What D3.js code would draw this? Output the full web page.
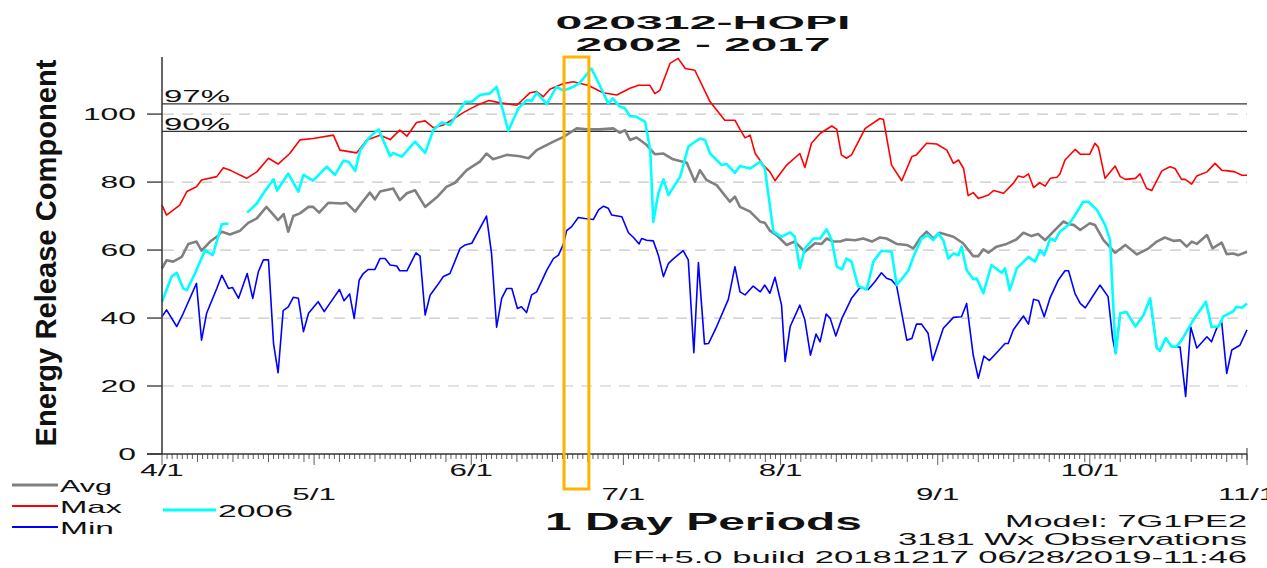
<!DOCTYPE html>
<html><head><meta charset="utf-8">
<script src="https://cdn.jsdelivr.net/npm/d3@7"></script>
<style>html,body{margin:0;padding:0;background:#fff;}svg{display:block;}</style>
</head><body>
<svg id="chart" width="1267" height="568"></svg>
<script>
// ---- data (day offset from 4/1, value) ----
const avgPts = [[0,54.6],[0.9,57],[2.2,56.6],[3.9,58],[5.2,61.8],[6.8,62.5],[7.8,59.8],[9.5,62.5],[10.8,63.9],[11.8,65.4],[13.4,64.6],[15.4,65.7],[17,68],[18.7,69.3],[20.6,72.7],[22.9,68.8],[24,70.6],[24.9,65.4],[25.9,70],[27.2,70.8],[28.9,72.7],[29.8,72.7],[31,71],[32.8,73.9],[35.4,73.7],[36.4,73.9],[38.1,71.3],[39.4,73.9],[41,76.9],[42,74.9],[43,77.2],[45.6,78.1],[46.9,74.7],[48.3,76.7],[49.9,77.6],[51.9,72.7],[54.2,75.5],[56.1,78.6],[57.8,79.8],[60.1,83.5],[62.7,86],[64,88.4],[65.3,86.7],[68,88],[70.6,87.6],[72.3,87],[73.9,89.4],[77.2,91.9],[79.2,93.3],[81.8,95.8],[83.8,95.5],[86.4,95.5],[89,95.8],[90.3,94.5],[91.3,95.3],[92.3,92.4],[93.6,93.1],[95.6,90.9],[97.2,88.2],[98.9,88.4],[100.8,86.7],[103.5,85.7],[105.1,80.1],[106.1,83.5],[107.4,80.6],[109.4,79.1],[112,74.2],[113,75.7],[114,72.7],[116,71.3],[118,68.3],[118.9,68],[119.9,65.7],[121.2,64.4],[123.2,61.5],[124.8,62.5],[126.8,59.5],[128.8,62],[130.1,61.8],[131.1,63.4],[132.4,62.5],[133.7,62.5],[135,63.1],[136.7,62.9],[138.3,63.4],[140,62.5],[141.6,63.7],[142.9,63.4],[144.9,61.8],[146.9,61.5],[148.2,60.5],[149.5,63.4],[150.8,65.4],[152.1,63.4],[153.4,65.1],[156.1,63.9],[158,62],[160,58.2],[161,58.2],[162,60.2],[163,59.2],[164.6,61],[166.6,61.8],[168.5,63.1],[169.9,65.1],[171.5,64.1],[172.8,64.7],[174.2,62.9],[175.8,65.4],[177.8,68.4],[178.8,67.6],[179.8,67.4],[181.1,65.9],[183,67.9],[184,67.4],[185.7,62.9],[188,59.2],[190,61.5],[192.3,58.7],[194.6,60.5],[196.2,62.5],[197.8,63.7],[199.5,62.7],[200.8,62.9],[202.1,61],[203.1,62.5],[204.1,61.8],[206.1,64.4],[207.2,60.5],[209,62.2],[210,58.8],[211.3,59],[212.3,58.5],[214,59.5]];

const maxPts = [[0,73.2],[0.9,70.3],[3.5,73.2],[4.9,77.2],[6.8,78.6],[7.8,80.6],[10.8,81.6],[12.1,84.2],[13.7,83.3],[16.7,81.1],[18.7,83],[21,87],[22.9,85.3],[25.2,88.4],[27.2,92.4],[29.8,92.8],[33.8,93.8],[35.1,89.4],[38.4,88.6],[40.4,92.4],[43,93.8],[45,92.5],[46.9,95.3],[48.3,93.5],[50.2,97.5],[51.9,98],[53.5,96],[55.5,96.8],[57.1,98.2],[59.5,100.5],[62,102.5],[64.5,104],[66.7,103.3],[70,102.6],[72.6,106.3],[73.9,106.6],[75.2,105.1],[76.5,107.3],[79.2,109],[81.1,109.5],[82.5,109],[84,108.5],[87,106.3],[89.7,105.6],[92.3,107.6],[94,108.5],[96.2,108.5],[97.2,106],[98.2,107],[100.2,114.9],[101.8,116.4],[103.2,113.4],[105.1,112.9],[108.1,103.6],[109.4,101.2],[111,98.2],[113,98.2],[114,95.5],[115,93],[116,93.8],[117,88.4],[118.6,85],[119.9,83],[120.9,80.4],[123.2,85],[125.8,88.4],[126.8,84.3],[128.1,91.4],[129.8,94.3],[132.1,96.5],[133.1,95.5],[134,88],[135,87],[136,88],[138.7,95.8],[141.6,98.7],[142.3,98.4],[143.9,85],[145.9,80.4],[147.9,87.5],[148.8,88],[150.8,91.4],[152.8,91.2],[154.8,89.4],[156.1,85.5],[157.1,86.5],[158.1,84],[159,76],[160,76.9],[161,75.2],[163,76.2],[164,77.5],[166,76.7],[167.9,79.6],[168.9,81.8],[169.9,81.4],[170.9,82.4],[171.9,78.4],[173.1,79.8],[174.2,78.8],[175.2,81.1],[176.5,81.4],[177.1,82.4],[178.1,86.5],[180.1,89.6],[181.1,88.2],[183,88.2],[184,91.4],[184.7,90.2],[186,81.1],[188,84.7],[189,81.6],[190,80.8],[192,81.1],[192.9,82.4],[194.2,78.1],[195.2,77.5],[197.2,83.3],[198.8,84.5],[199.8,84],[201.1,80.8],[201.8,80.8],[203.1,79.4],[204.1,81.8],[206.1,83],[207.7,85.5],[209,83.5],[210.3,83.3],[211.6,83],[213,82],[214,82]];

const minPts = [[0,40.4],[0.9,42.4],[2.9,37.5],[4.2,41.4],[6.8,50.2],[7.8,33.5],[8.8,41.4],[10.8,48.7],[11.8,52.6],[13.1,48.7],[13.9,49],[15.1,45.8],[16.8,53.1],[17.9,45.8],[19,53.6],[20,57.1],[21,57.1],[22,32.5],[22.9,23.9],[23.9,42.2],[24.9,43.3],[25.9,46.1],[26.9,45.8],[27.9,36],[28.9,41.4],[30.8,44.8],[32,41.9],[33.1,44.3],[35,48.4],[35.9,45.1],[37,47.1],[37.9,39.9],[38.9,51.2],[39.7,53.1],[40.7,54.3],[42,54.3],[43,57.5],[44,57.5],[45,55.6],[46.3,55.3],[46.9,53.9],[48.3,53.9],[50.1,59.2],[50.9,58.2],[51.9,40.9],[52.9,46.8],[54.2,49.4],[55.5,52.2],[56.8,53.1],[58.8,60.5],[59.8,61.5],[61.1,62],[64,70],[65,59],[66,37.3],[67,45.8],[68,48.7],[69,48.7],[70.1,42.8],[70.9,43.3],[71.9,41.6],[72.9,46.8],[73.9,47.7],[75.9,54.1],[77.2,57.5],[78.2,58.5],[79.2,61.8],[79.8,65.7],[80.8,66.9],[82.1,69.6],[83.4,69.3],[85.1,69],[86.1,71.8],[87.1,72.9],[88,72.3],[88.7,70.3],[90.7,69.8],[92,65.1],[93,63.7],[94.1,61.8],[94.6,63.4],[95.6,62.9],[96.9,62.7],[97.9,58.5],[98.9,52.2],[99.9,56.1],[100.9,57.5],[102.8,59.8],[103.8,57.1],[104.9,29.8],[105.8,56.3],[107,32.4],[107.8,32.5],[109.4,37.5],[111.7,45.5],[113,55.1],[114,47.7],[115,46.8],[116.6,49.4],[118,47.7],[118.9,49.7],[119.9,47.3],[120.9,52],[122.2,43.8],[122.9,27.2],[123.9,37.5],[125.8,43.8],[126.8,39.4],[127.9,29.1],[129,35.3],[129.8,33],[131,41.2],[131.8,39.9],[132.9,34.7],[134.1,39.9],[136,45.8],[137.7,49],[139.3,48.4],[140.6,50.7],[141.9,53.3],[142.9,51.7],[143.9,51.2],[144.9,49.4],[146.9,33.5],[147.9,34],[148.8,38.2],[149.8,38.2],[151.1,35.5],[152,27.5],[154.1,37],[156.1,40.2],[157.7,40.4],[158.7,44.3],[160,29.1],[161,22.3],[162.1,28.8],[163.2,27.5],[166.3,32.5],[166.9,32.5],[167.9,36.5],[169.9,40.6],[170.9,38.2],[171.9,45.5],[172.9,45.1],[174,40.4],[175.2,46.1],[176.8,51.2],[178.1,53.9],[178.8,53.9],[180.1,47.1],[181.1,44.3],[182.1,43],[183.1,45.3],[185,49.7],[186.6,46.3],[187.5,34],[188.1,29.6],[189,41.4],[190.2,41.8],[192,37.5],[193.6,40.9],[194.9,45.6],[196.2,31.2],[196.8,30.4],[198,34.1],[199.1,31.6],[200.8,31.5],[201.9,16.9],[202.9,37.4],[204.1,31.2],[206.1,34.5],[207,33],[208,36.9],[209,38.9],[210,23.7],[211,30.6],[212.6,32],[214,36.5]];

const y2006Pts = [[0,44.8],[1.9,52.2],[2.9,53.3],[4.2,48.7],[4.9,48.2],[6.5,53.1],[8.5,60],[10,58.5],[11.8,67.6],[13.1,67.8],[15,null],[16.8,71],[18.7,73.7],[20,76.7],[22,80.8],[22.7,77.5],[24.9,82.5],[26.9,77.2],[27.9,82.1],[29.8,80.4],[32.5,84.5],[34.1,82.1],[35.8,86.3],[36.8,86],[38.1,83.3],[39.1,89.4],[41,93.3],[42.7,95.5],[45,87.6],[45.6,88.6],[47.3,87.5],[49.9,91.9],[51.9,88.6],[53.5,95.3],[55.2,97.5],[56.8,96.8],[59.8,103.6],[61.1,103.6],[62.7,105.6],[64.7,106.1],[66,108],[68.3,95.1],[70.3,101.7],[71.9,104.1],[72.9,103.9],[73.9,106.3],[75.9,102.9],[77.8,108],[79.2,106.9],[81.1,108],[82.4,109.2],[84.7,113.4],[87.1,106.1],[88,103.1],[88.9,104.6],[90.3,102.2],[91.3,101.7],[92.3,99.4],[93.6,99.2],[95.3,97.7],[96.3,89.4],[96.9,68.3],[97.9,76.7],[98.9,80.8],[99.9,76.2],[100.9,78.6],[102.2,81.6],[103.8,90.4],[104.5,91.2],[106.1,92.8],[107.1,92.4],[108.1,88.4],[110.4,85],[111.4,85.3],[113,82.7],[114,84.7],[116,84],[118,86],[118.9,84],[120.6,65.4],[122.2,63.9],[123.9,65.2],[124.8,63.9],[125.8,54.6],[126.8,60.5],[128.5,63.4],[129.8,63.4],[131.1,66.1],[132.1,62.9],[133.1,55.1],[134.1,54.3],[135,57.5],[136,56.6],[137.3,49.4],[139,48.4],[140.3,56.6],[141.9,59.8],[143.9,59.5],[144.9,49.7],[147.2,53.9],[148.2,58],[149.8,63.4],[151.1,64.4],[152.1,62.9],[153.1,64.9],[154.1,62.9],[155.1,57.5],[156.1,59],[157.1,58.5],[157.7,61],[158.7,54.1],[160,51.4],[160.7,51.6],[162,47.3],[163.6,55.6],[165.6,53.3],[166.3,54.6],[167.2,48.2],[168.6,54.6],[170.9,58],[172.2,56.6],[173.2,60],[174,58.5],[175.2,63.4],[176.1,62.7],[177.1,65.4],[178.8,67.4],[180.1,70.3],[181.7,74.2],[182.7,74.2],[184.4,71.8],[186,67.4],[187,62.9],[187.5,47.3],[188.1,29.6],[189,41.4],[190.2,41.8],[192,37.5],[193.6,40.9],[194.9,45.8],[196.2,31.2],[196.8,30.4],[198,34.1],[199.1,31.6],[200.1,31.6],[201.1,33.5],[203.4,39.4],[205.9,44.8],[207,37.4],[208.4,37.5],[209.3,40.4],[211.3,42],[211.9,43.3],[213,43],[214,44.3]];

const yTicks = [0,20,40,60,80,100];
const monthTicks = [[0,"4/1"],[30,"5/1"],[61,"6/1"],[91,"7/1"],[122,"8/1"],[153,"9/1"],[183,"10/1"],[214,"11/1"]];
const pctLines = [[103.0,"97%"],[94.9,"90%"]];
const highlightDays = [79.3, 84.2];
const titleLines = ["020312-HOPI","2002 - 2017"];
const infoLines = ["Model: 7G1PE2","3181 Wx Observations","FF+5.0 build 20181217 06/28/2019-11:46"];
const legendItems = [["Avg","#808080"],["Max","#ff0000"],["Min","#0000ff"],["2006","#00ffff"]];

// ---- layout ----
const svg = d3.select("#chart");
const FONT = "'Liberation Sans', Arial, sans-serif";
const x = d3.scaleLinear().domain([0,214]).range([162,1247]);
const y = d3.scaleLinear().domain([0,116.5]).range([454,58]);

function txt(g, s, px, py, len, size, weight, anchor) {
  return g.append("text").attr("x",px).attr("y",py).text(s)
    .attr("font-family",FONT).attr("font-size",size).attr("font-weight",weight||"normal")
    .attr("text-anchor",anchor||"start").attr("textLength",len).attr("lengthAdjust","spacingAndGlyphs")
    .attr("fill","#111");
}

// grid
svg.append("g").selectAll("line").data(yTicks.filter(d=>d>0)).join("line")
  .attr("x1",163).attr("x2",1247).attr("y1",d=>y(d)).attr("y2",d=>y(d))
  .attr("stroke","#c8c8c8").attr("stroke-width",1.2).attr("stroke-dasharray","11,8");

// percentile lines
pctLines.forEach(([v,lab])=>{
  svg.append("line").attr("x1",162).attr("x2",1247).attr("y1",y(v)).attr("y2",y(v))
    .attr("stroke","#333").attr("stroke-width",1.2);
  txt(svg, lab, 164, y(v)-1.5, 66, 16, "normal");
});

// lines
const line = d3.line().defined(d=>d[1]!==null).x(d=>x(d[0])).y(d=>y(d[1]));
const series = [[avgPts,"#808080",2.6],[maxPts,"#ff0000",1.6],[minPts,"#0000ff",1.6],[y2006Pts,"#00ffff",2.6]];
series.forEach(([pts,c,w])=>{
  svg.append("path").datum(pts).attr("d",line).attr("fill","none")
    .attr("stroke",c).attr("stroke-width",w).attr("stroke-linejoin","round");
});

// axes
const ax = svg.append("g").attr("stroke","#333");
ax.append("line").attr("x1",162).attr("x2",162).attr("y1",57).attr("y2",454).attr("stroke-width",1.5);
ax.append("line").attr("x1",147).attr("x2",1247).attr("y1",454).attr("y2",454).attr("stroke-width",1.5);
ax.append("line").attr("x1",1247).attr("x2",1247).attr("y1",448).attr("y2",460).attr("stroke-width",1);
ax.selectAll(".yt").data(yTicks).join("line")
  .attr("x1",147).attr("x2",162).attr("y1",d=>y(d)).attr("y2",d=>y(d)).attr("stroke-width",1.3);
yTicks.forEach(v=>{
  const s = String(v);
  txt(svg, s, 136, y(v)+6, s.length*17.7, 16, "normal", "end");
});
// x ticks: daily minor + month major
const days = d3.range(0,215);
const monthSet = new Set(monthTicks.map(d=>d[0]));
ax.selectAll(".xt").data(days).join("line")
  .attr("x1",d=>x(d)).attr("x2",d=>x(d)).attr("y1",454)
  .attr("y2",d=>monthSet.has(d)?465:(d%7===0?462:459)).attr("stroke-width",0.8);
monthTicks.forEach(([d,lab],i)=>{
  txt(svg, lab, x(d), i%2===0?476:500, lab.length*14.5, 16, "normal", "middle");
});

// highlight box
svg.append("rect").attr("x",x(highlightDays[0])).attr("y",57)
  .attr("width",x(highlightDays[1])-x(highlightDays[0])).attr("height",432)
  .attr("fill","none").attr("stroke","#ffb300").attr("stroke-width",3);

// titles
txt(svg, titleLines[0], 703, 28.5, 295, 19, "bold", "middle");
txt(svg, titleLines[1], 703, 50.5, 255, 19, "bold", "middle");
txt(svg, "1 Day Periods", 703.5, 530, 317, 24, "bold", "middle");
svg.append("text").attr("transform","translate(56,253) rotate(-90)").text("Energy Release Component")
  .attr("font-family",FONT).attr("font-size",29).attr("font-weight","bold").attr("text-anchor","middle")
  .attr("textLength",387).attr("lengthAdjust","spacingAndGlyphs").attr("fill","#111");

// info text
const infoW = [242,349,635];
infoLines.forEach((s,i)=>txt(svg, s, 1247, 527+i*18, infoW[i], 17, "normal", "end"));

// legend
const lg = svg.append("g");
const lpos = [[12,485,60,492,52],[12,506,60,513,62],[12,527,60,534,54],[163,510,218,517,75]];
legendItems.forEach(([lab,c],i)=>{
  const [lx,ly,tx,ty,tw] = lpos[i];
  lg.append("line").attr("x1",lx).attr("x2",lx+(i===3?53:46)).attr("y1",ly).attr("y2",ly)
    .attr("stroke",c).attr("stroke-width",(i===0||i===3)?3:2);
  txt(lg, lab, tx, ty, tw, 17, "normal");
});
</script>
</body></html>
